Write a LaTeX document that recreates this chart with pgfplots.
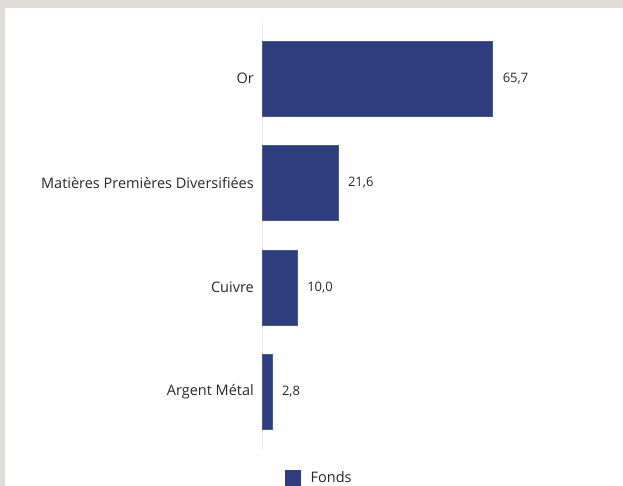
\documentclass[border=0pt]{standalone}
\usepackage{pgfplots}
\pgfplotsset{compat=1.18}
\usepackage{fontspec}
\setmainfont{Open Sans}
\definecolor{fonds}{RGB}{46,61,126}
\definecolor{cadre}{RGB}{224,220,216}
\definecolor{texte}{RGB}{40,40,40}
\newcommand{\lbl}{\fontsize{14.5}{17}\selectfont}
\newcommand{\val}{\fontsize{13}{15}\selectfont}
\begin{document}
\begin{tikzpicture}[x=1pt,y=1pt]
  \fill[cadre] (0,0) rectangle (623,486);
  \fill[white] (5,0) rectangle (623,478);
  \begin{axis}[
      at={(262pt,36pt)}, anchor=south west,
      scale only axis, width=361pt, height=430pt,
      xbar, bar width=75pt,
      xmin=0, xmax=102.85,
      ymin=-0.56, ymax=3.555, y dir=reverse,
      ytick={0,1,2,3},
      yticklabels={Or, Matières Premières Diversifiées, Cuivre, Argent Métal},
      hide x axis,
      axis y line=left,
      y axis line style={draw=black!7, line width=0.8pt, -},
      major tick length=0pt,
      ytick style={draw=none},
      yticklabel style={font=\lbl, text=texte, inner sep=0pt, xshift=-8pt},
      nodes near coords={\pgfmathprintnumber[fixed,fixed zerofill,precision=1,use comma,assume math mode=true]{\pgfplotspointmeta}},
      nodes near coords style={font=\val, text=texte, anchor=west, inner sep=0pt, xshift=10pt},
      legend image code/.code={\fill[fonds] (0pt,-7.5pt) rectangle (15pt,7.5pt);},
      legend style={at={(axis description cs:0.064,-0.065)}, anchor=west, draw=none, fill=none,
        inner sep=0pt, font=\lbl, text=texte},
    ]
    \addplot[fill=fonds, draw=fonds!85!white, line width=0.4pt]
      coordinates {(65.7,0) (21.6,1) (10.0,2) (2.8,3)};
    \addlegendentry{\hspace*{8pt}Fonds}
  \end{axis}
  \pgfresetboundingbox
  \useasboundingbox (0,0) rectangle (623,486);
\end{tikzpicture}
\end{document}
